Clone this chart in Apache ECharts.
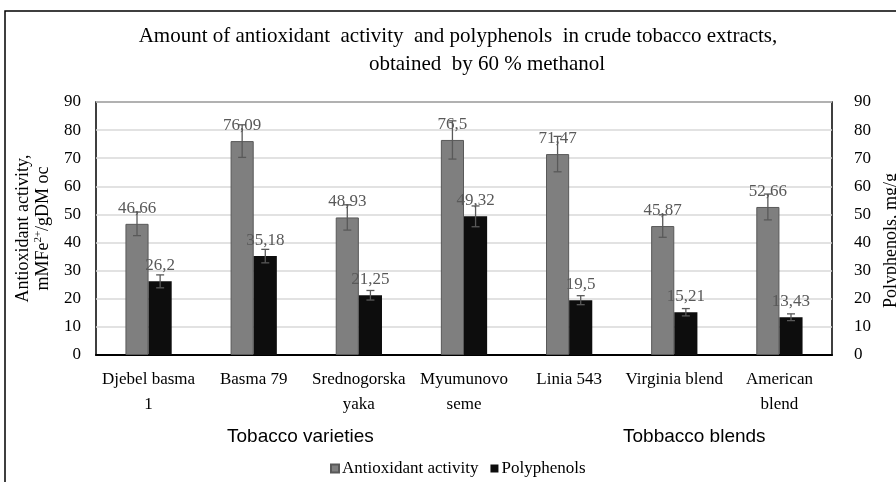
<!DOCTYPE html>
<html>
<head>
<meta charset="utf-8">
<script src="https://cdn.jsdelivr.net/npm/echarts@6/dist/echarts.min.js"></script>
<style>
  html, body { margin: 0; padding: 0; background: #fff; }
  #chart { width: 896px; height: 482px; }
</style>
</head>
<body>
<div id="chart"></div>
<script>
var categories = ["Djebel basma\n1", "Basma 79", "Srednogorska\nyaka", "Myumunovo\nseme", "Linia 543", "Virginia blend", "American\nblend"];
var antioxidant = [46.66, 76.09, 48.93, 76.5, 71.47, 45.87, 52.66];
var antioxidantErr = [4.2, 5.8, 4.5, 6.8, 6.3, 4.0, 4.6];
var polyphenols = [26.2, 35.18, 21.25, 49.32, 19.5, 15.21, 13.43];
var polyphenolsErr = [2.3, 2.4, 1.7, 3.7, 1.6, 1.3, 1.2];
var groupLabels = ["Tobacco varieties", "Tobbacco blends"];

var serif = "'Liberation Serif', 'Times New Roman', serif";
var sans = "'Liberation Sans Narrow', 'Liberation Sans', sans-serif";

function comma(p) {
  return String(p.value).replace(".", ",");
}

// error bars drawn on top of the bars, offset to each bar's centre
function errorSeries(values, errs, axisIdx, shift) {
  return {
    type: "custom",
    yAxisIndex: axisIdx,
    z: 5,
    silent: true,
    data: values.map(function (v, i) { return [i, v, errs[i]]; }),
    encode: { x: 0, y: 1 },
    renderItem: function (params, api) {
      var i = api.value(0), v = api.value(1), e = api.value(2);
      var hi = api.coord([i, v + e]);
      var lo = api.coord([i, v - e]);
      var band = api.size([1, 0])[0];
      var x = hi[0] + shift * band;
      var cap = 4;
      var st = { stroke: "#595959", lineWidth: 1.3 };
      return {
        type: "group",
        children: [
          { type: "line", shape: { x1: x, y1: hi[1], x2: x, y2: lo[1] }, style: st },
          { type: "line", shape: { x1: x - cap, y1: hi[1], x2: x + cap, y2: hi[1] }, style: st },
          { type: "line", shape: { x1: x - cap, y1: lo[1], x2: x + cap, y2: lo[1] }, style: st }
        ]
      };
    }
  };
}

var chart = echarts.init(document.getElementById("chart"));
var option = {
  animation: false,
  backgroundColor: "#fff",
  title: [
    {
      text: "Amount of antioxidant  activity  and polyphenols  in crude tobacco extracts,",
      left: 458, top: 26, textAlign: "center", padding: 0,
      textStyle: { fontFamily: serif, fontSize: 21, fontWeight: "normal", color: "#000" }
    },
    {
      text: "obtained  by 60 % methanol",
      left: 487, top: 54, textAlign: "center", padding: 0,
      textStyle: { fontFamily: serif, fontSize: 21, fontWeight: "normal", color: "#000" }
    }
  ],
  grid: {
    left: 96, right: 64, top: 102, bottom: 127,
    outerBoundsMode: "none",
    containLabel: false,
    show: true, borderColor: "#000", borderWidth: 1.5
  },
  legend: {
    top: 455,
    left: 325,
    itemWidth: 8,
    itemHeight: 8,
    itemGap: 12,
    icon: "rect",
    textStyle: { fontFamily: serif, fontSize: 17, color: "#000", padding: [0, 0, 0, -2] },
    data: ["Antioxidant activity", "Polyphenols"]
  },
  xAxis: {
    type: "category",
    data: categories,
    axisLine: { lineStyle: { color: "#000", width: 2 } },
    axisTick: { show: false },
    axisLabel: {
      interval: 0, margin: 12, color: "#000",
      fontFamily: serif, fontSize: 17, lineHeight: 25
    }
  },
  yAxis: [
    {
      type: "value", min: 0, max: 90, interval: 10,
      name: "Antioxidant activity,\nmMFe{sup|2+}/gDM oc",
      nameLocation: "middle",
      nameGap: 42,
      nameTextStyle: {
        fontFamily: serif, fontSize: 18, color: "#000", lineHeight: 20,
        rich: { sup: { fontFamily: serif, fontSize: 11, verticalAlign: "top", color: "#000" } }
      },
      axisLine: { show: false },
      axisTick: { show: false },
      splitLine: { lineStyle: { color: "#d9d9d9", width: 1.5 } },
      axisLabel: { margin: 15, color: "#000", fontFamily: serif, fontSize: 17 }
    },
    {
      type: "value", min: 0, max: 90, interval: 10,
      name: "Polyphenols, mg/g",
      nameLocation: "middle",
      nameGap: 46,
      nameTextStyle: { fontFamily: serif, fontSize: 18, color: "#000", padding: [0, 24, 0, 0] },
      axisLine: { show: false },
      axisTick: { show: false },
      splitLine: { show: false },
      axisLabel: { margin: 22, color: "#000", fontFamily: serif, fontSize: 17 }
    }
  ],
  series: [
    {
      name: "Antioxidant activity",
      type: "bar",
      yAxisIndex: 0,
      data: antioxidant,
      barWidth: "22%",
      barGap: "0%",
      itemStyle: { color: "#7f7f7f", borderColor: "#595959", borderWidth: 1 },
      label: {
        show: true, position: "top", distance: 7, formatter: comma,
        color: "#595959", fontFamily: serif, fontSize: 17
      },
      z: 2
    },
    {
      name: "Polyphenols",
      type: "bar",
      yAxisIndex: 1,
      data: polyphenols,
      barWidth: "22%",
      barGap: "0%",
      itemStyle: { color: "#0d0d0d" },
      label: {
        show: true, position: "top", distance: 7, formatter: comma,
        color: "#595959", fontFamily: serif, fontSize: 17
      },
      z: 2
    },
    errorSeries(antioxidant, antioxidantErr, 0, -0.11),
    errorSeries(polyphenols, polyphenolsErr, 1, 0.11)
  ],
  graphic: [
    {
      type: "rect", silent: true,
      shape: { x: 5, y: 11, width: 1000, height: 1000 },
      style: { fill: null, stroke: "#000", lineWidth: 1.5 }
    },
    {
      type: "text", left: 299 - 72, top: 427,
      style: { text: groupLabels[0], font: "19px " + sans, fill: "#000" }
    },
    {
      type: "text", left: 690 - 67, top: 427,
      style: { text: groupLabels[1], font: "19px " + sans, fill: "#000" }
    }
  ]
};
chart.setOption(option);
</script>
</body>
</html>
